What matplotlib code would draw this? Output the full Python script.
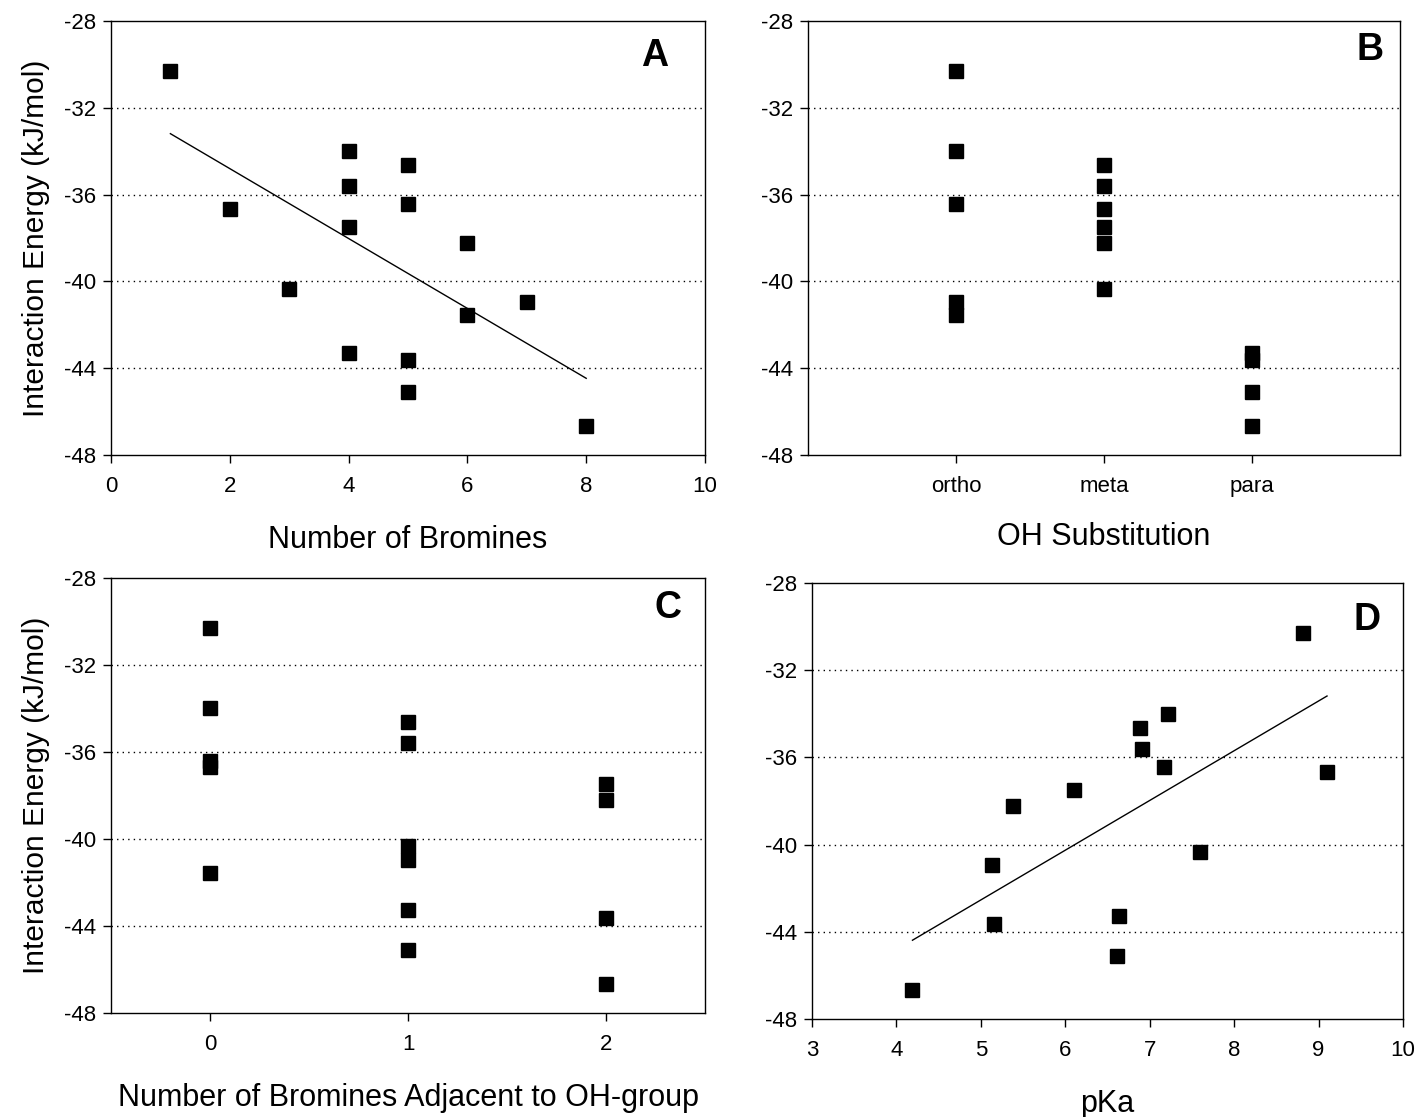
import numpy as np
import matplotlib
matplotlib.use("Agg")
import matplotlib.pyplot as plt

plt.rcParams["font.family"] = ["Liberation Sans", "DejaVu Sans"]
plt.rcParams["axes.unicode_minus"] = False

# one entry per compound
n_bromines = [1, 2, 3, 4, 4, 4, 4, 5, 5, 5, 5, 6, 6, 7, 8]
oh_position = ["ortho", "meta", "meta", "ortho", "meta", "meta", "para", "meta",
               "ortho", "para", "para", "meta", "ortho", "ortho", "para"]
n_adjacent = [0, 0, 1, 0, 1, 2, 1, 1, 0, 2, 1, 2, 0, 1, 2]
pka = [8.81, 9.10, 7.60, 7.22, 6.91, 6.10, 6.64, 6.88, 7.17, 5.16, 6.61, 5.38,
       np.nan, 5.13, 4.19]
energy = [-30.29, -36.68, -40.33, -33.99, -35.60, -37.48, -43.28, -34.64,
          -36.43, -43.62, -45.11, -38.21, -41.56, -40.95, -46.68]

positions = ["ortho", "meta", "para"]
ylabel = "Interaction Energy (kJ/mol)"

W, H = 1418, 1117
fig = plt.figure(figsize=(W / 100, H / 100), dpi=100)


def make_ax(left, right, top, bottom):
    return fig.add_axes([left / W, 1 - bottom / H, (right - left) / W, (bottom - top) / H])


def style(ax, letter, lx, ly):
    ax.set_ylim(-48, -28)
    ax.set_yticks(np.arange(-48, -27, 4))
    for v in [-32, -36, -40, -44]:
        ax.axhline(v, color="black", linestyle=(0, (1, 3)), linewidth=1.0, zorder=0)
    ax.tick_params(direction="out", length=6, width=1, labelsize=16, pad=5)
    ax.tick_params(axis="x", pad=9)
    for sp in ax.spines.values():
        sp.set_linewidth(1.0)
    ax.text(lx, ly, letter, transform=ax.transAxes, fontsize=27, fontweight="bold",
            ha="center", va="center")


def scatter(ax, x, y):
    ax.plot(x, y, "s", color="black", markersize=9.5, linestyle="none", zorder=3)


def fit_line(ax, x, y):
    x = np.asarray(x, dtype=float)
    y = np.asarray(y, dtype=float)
    ok = np.isfinite(x) & np.isfinite(y)
    slope, icpt = np.polyfit(x[ok], y[ok], 1)
    xs = np.array([x[ok].min(), x[ok].max()])
    ax.plot(xs, slope * xs + icpt, color="black", linewidth=1.0, zorder=2)


# A
ax = make_ax(111, 705, 21, 455)
scatter(ax, n_bromines, energy)
fit_line(ax, n_bromines, energy)
ax.set_xlim(0, 10)
ax.set_xticks(np.arange(0, 11, 2))
style(ax, "A", 0.916, 0.92)
ax.set_xlabel("Number of Bromines", fontsize=22, labelpad=20)
ax.set_ylabel(ylabel, fontsize=21.5, labelpad=10)

# B
ax = make_ax(808, 1400, 21, 455)
pos_x = [positions.index(p) + 1 for p in oh_position]
scatter(ax, pos_x, energy)
ax.set_xlim(0, 4)
ax.set_xticks([1, 2, 3])
ax.set_xticklabels(positions)
style(ax, "B", 0.949, 0.933)
ax.set_xlabel("OH Substitution", fontsize=22, labelpad=18)

# C
ax = make_ax(111, 705, 578, 1013)
scatter(ax, n_adjacent, energy)
ax.set_xlim(-0.5, 2.5)
ax.set_xticks([0, 1, 2])
style(ax, "C", 0.938, 0.931)
ax.set_xlabel("Number of Bromines Adjacent to OH-group", fontsize=22, labelpad=20)
ax.set_ylabel(ylabel, fontsize=21.5, labelpad=10)

# D
ax = make_ax(812, 1403, 583, 1019)
scatter(ax, pka, energy)
fit_line(ax, pka, energy)
ax.set_xlim(3, 10)
ax.set_xticks(np.arange(3, 11, 1))
style(ax, "D", 0.94, 0.915)
ax.set_xlabel("pKa", fontsize=22, labelpad=20)

fig.savefig("out.png", dpi=100)
